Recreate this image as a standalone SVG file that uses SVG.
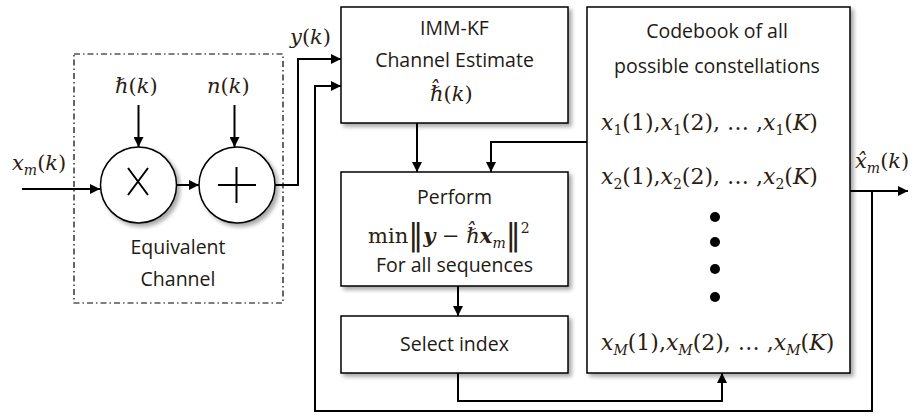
<svg xmlns="http://www.w3.org/2000/svg" width="916" height="416" viewBox="0 0 916 416">
<defs>
<filter id="sh" x="-10%" y="-10%" width="130%" height="130%">
<feDropShadow dx="3" dy="3" stdDeviation="2" flood-color="#000" flood-opacity="0.35"/>
</filter>
<marker id="ah" viewBox="0 0 10 10" refX="10" refY="5" markerWidth="10" markerHeight="10" markerUnits="userSpaceOnUse" orient="auto">
<path d="M0,0 L10,5 L0,10 z" fill="#000"/>
</marker>
<style>
.box{fill:#fff;stroke:#000;stroke-width:1.5;filter:url(#sh)}
.ln{fill:none;stroke:#000;stroke-width:2}
.arr{fill:none;stroke:#000;stroke-width:2;marker-end:url(#ah)}
.t{font-family:"Open Sans","Liberation Sans",sans-serif;font-size:19.5px;fill:#1e1a14;text-anchor:middle}
.m{font-family:"DejaVu Serif","Liberation Serif",serif;font-size:21px;font-style:italic;fill:#2a2010}
.row{font-size:22px}
.sub{font-size:14px}
.up{font-style:normal}
.bar{font-style:normal;font-size:30px;font-family:"DejaVu Sans",sans-serif}
</style>
</defs>

<g id="equivalent-channel">
<rect x="74" y="54" width="209" height="249" fill="none" stroke="#000" stroke-width="1.2" stroke-dasharray="6,3,1.5,3"/>
<text class="t" x="178" y="254">Equivalent</text>
<text class="t" x="178" y="286">Channel</text>
</g>

<g id="multiplier">
<circle cx="138.5" cy="185" r="38" class="box" stroke-width="2"/>
<path d="M128,168 L148,195 M148,168 L128,195" stroke="#000" stroke-width="2"/>
</g>

<g id="adder">
<circle cx="237" cy="185" r="38" class="box" stroke-width="2"/>
<path d="M218,185 L256,185 M236.5,167 L236.5,203" stroke="#000" stroke-width="2"/>
</g>

<g id="labels">
<text class="m" x="12" y="170">x<tspan class="sub" dy="5">m</tspan><tspan class="up" dy="-5">(</tspan>k<tspan class="up">)</tspan></text>
<text class="m" x="115" y="93">ℏ<tspan class="up">(</tspan>k<tspan class="up">)</tspan></text>
<text class="m" x="207" y="93">n<tspan class="up">(</tspan>k<tspan class="up">)</tspan></text>
<text class="m" x="290" y="44">y<tspan class="up">(</tspan>k<tspan class="up">)</tspan></text>
<text class="m" x="855" y="168">x̂<tspan class="sub" dy="5">m</tspan><tspan class="up" dy="-5">(</tspan>k<tspan class="up">)</tspan></text>
</g>

<g id="imm-kf">
<rect class="box" x="341" y="7" width="227" height="116"/>
<text class="t" x="454.5" y="35">IMM-KF</text>
<text class="t" x="454.5" y="67">Channel Estimate</text>
<text class="m" x="430" y="101">ℏ̂<tspan class="up">(</tspan>k<tspan class="up">)</tspan></text>
</g>

<g id="perform">
<rect class="box" x="341" y="172" width="227" height="114"/>
<text class="t" x="454.5" y="204">Perform</text>
<text class="m" x="368" y="243"><tspan class="up">min</tspan><tspan class="bar" dy="2">‖</tspan><tspan font-weight="bold" dy="-2">y</tspan><tspan class="up"> − </tspan>ℏ̂<tspan font-weight="bold">x</tspan><tspan class="sub" dy="5">m</tspan><tspan class="bar" dy="-3">‖</tspan><tspan class="up sub" dy="-12">2</tspan></text>
<text class="t" x="454.5" y="272">For all sequences</text>
</g>

<g id="select-index">
<rect class="box" x="341" y="316" width="227" height="57"/>
<text class="t" x="454.5" y="351">Select index</text>
</g>

<g id="codebook">
<rect class="box" x="587" y="7" width="263" height="366"/>
<text class="t" x="717" y="38">Codebook of all</text>
<text class="t" x="717" y="73">possible constellations</text>
<text class="m row" x="601" y="130">x<tspan class="sub up" dy="5">1</tspan><tspan class="up" dy="-5">(1),</tspan>x<tspan class="sub up" dy="5">1</tspan><tspan class="up" dy="-5">(2), … ,</tspan>x<tspan class="sub up" dy="5">1</tspan><tspan class="up" dy="-5">(</tspan>K<tspan class="up">)</tspan></text>
<text class="m row" x="601" y="184">x<tspan class="sub up" dy="5">2</tspan><tspan class="up" dy="-5">(1),</tspan>x<tspan class="sub up" dy="5">2</tspan><tspan class="up" dy="-5">(2), … ,</tspan>x<tspan class="sub up" dy="5">2</tspan><tspan class="up" dy="-5">(</tspan>K<tspan class="up">)</tspan></text>
<circle cx="715" cy="217" r="5"/>
<circle cx="715" cy="242" r="5"/>
<circle cx="715" cy="269" r="5"/>
<circle cx="715" cy="297" r="5"/>
<text class="m row" x="601" y="350">x<tspan class="sub" dy="5">M</tspan><tspan class="up" dy="-5">(1),</tspan>x<tspan class="sub" dy="5">M</tspan><tspan class="up" dy="-5">(2), … ,</tspan>x<tspan class="sub" dy="5">M</tspan><tspan class="up" dy="-5">(</tspan>K<tspan class="up">)</tspan></text>
</g>

<g id="connectors">
<path class="arr" d="M22,189 L100,189"/>
<path class="arr" d="M138.5,105 L138.5,147"/>
<path class="arr" d="M234.5,105 L234.5,147"/>
<path class="arr" d="M177,185 L199,185"/>
<path class="arr" d="M275,185 L298,185 L298,59 L341,59"/>
<path class="arr" d="M872,191 L872,411 L315,411 L315,86 L341,86"/>
<path class="arr" d="M850,191 L908,191"/>
<path class="arr" d="M417,123 L417,172"/>
<path class="arr" d="M587,142 L491,142 L491,172"/>
<path class="arr" d="M458,286 L458,316"/>
<path class="arr" d="M458,373 L458,401 L722,401 L722,373"/>
</g>
</svg>
